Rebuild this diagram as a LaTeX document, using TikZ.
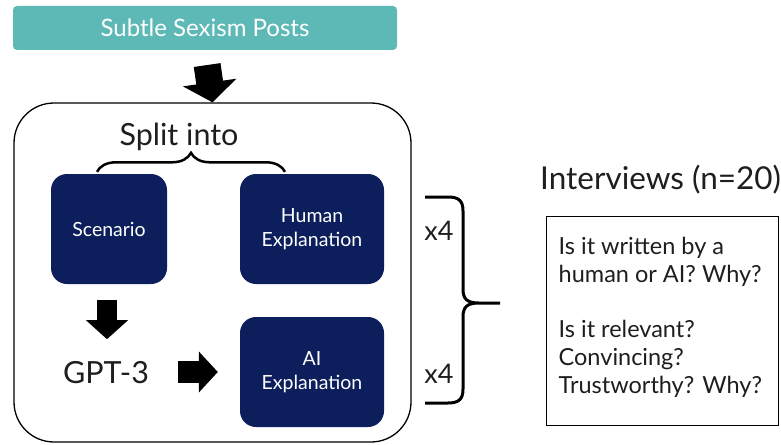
\documentclass[tikz,border=0pt]{standalone}
\usepackage{fontspec}
\setmainfont{Lato}
\usetikzlibrary{arrows.meta,positioning,calc,decorations.pathreplacing}
\definecolor{postsTeal}{HTML}{5DB9B6}
\definecolor{expNavy}{HTML}{0C1F5C}
\definecolor{inkGray}{HTML}{1E1E1E}

\begin{document}
\begin{tikzpicture}[x=1pt,y=-1pt,
		expbox/.style={rectangle, rounded corners=16pt, fill=expNavy, text=white, minimum height=110pt, align=center, font=\fontsize{19.5}{24}\selectfont},
		bigtext/.style={text=inkGray, anchor=base, inner sep=0pt, font=\fontsize{30.5}{34}\selectfont},
		bigblock/.style={-{Triangle[length=20pt,width=53pt]}, line width=27pt},
		smallblock/.style={-{Triangle[length=19pt,width=41pt]}, line width=20pt},
		countlabel/.style={text=inkGray, anchor=base, inner sep=0pt, font=\fontsize{27}{30}\selectfont}
	]
	\useasboundingbox (0,0) rectangle (781,444);
	
	\node[rectangle, rounded corners=4pt, fill=postsTeal, minimum width=384pt, minimum height=44pt, text=white, font=\fontsize{24}{26}\selectfont] (posts) at (205,28) {Subtle Sexism Posts};
	\node[rectangle, draw, rounded corners=40pt, line width=1.3pt, minimum width=397pt, minimum height=339pt] (frame) at (212.5,272.5) {};
	
	\node[bigtext] (split) at (179,145) {Split into};
	\node[expbox, minimum width=116pt] (scen) at (109,229) {Scenario};
	\node[expbox, minimum width=144pt] (human) at (312,229) {Human\\Explanation};
	\node[bigtext] (gpt) at (106,383) {GPT-3};
	\node[expbox, minimum width=144pt] (ai) at (312,372) {AI\\Explanation};
	
	% Arrows
	\draw[bigblock, shorten <=15pt] (posts.south) -- (frame.north);
	\draw[smallblock] ($(scen.south)+(-2,16)$) -- ($(scen.south)+(-2,55)$);
	\draw[smallblock, line width=22pt, -{Triangle[length=19pt,width=40pt]}, shorten >=22pt] ($(ai.west)+(-62,0)$) -- (ai.west);
	
	% Braces
	\draw[decorate, decoration={brace, amplitude=19pt}, line width=2.5pt] ($(scen.north)+(-12,-2)$) -- ($(human.north)+(-27,-2)$);
	\coordinate (btop) at (425,197);
	\coordinate (bbot) at (425,403);
	\coordinate (btip) at (500,303);
	\draw[line width=3pt] (btop) -- (448,197) .. controls (459,197) and (463,201) .. (463,211) -- (463,289) .. controls (463,299) and (467,303) .. (479,303) -- (btip) -- (479,303) .. controls (467,303) and (463,307) .. (463,317) -- (463,389) .. controls (463,399) and (459,403) .. (448,403) -- (bbot);
	\node[countlabel] (xa) at (439,240) {x4};
	\node[countlabel] (xb) at (439,383) {x4};
	
	\node[bigtext, anchor=base west, font=\fontsize{31.5}{34}\selectfont] (interv) at (540,189) {Interviews (n=20)};
	\node[rectangle, draw, line width=1pt, minimum width=232pt, minimum height=209pt] (qbox) at (662,320.5) {};
	\node[anchor=north west, inner sep=0pt, align=left, text=inkGray, font=\fontsize{23.5}{28}\selectfont] (qtext) at ($(qbox.north west)+(13,21.5)$) {Is it written by a\\human or AI? Why?\\[27pt]Is it relevant?\\Convincing?\\Trustworthy? Why?};
	
\end{tikzpicture}
\end{document}
